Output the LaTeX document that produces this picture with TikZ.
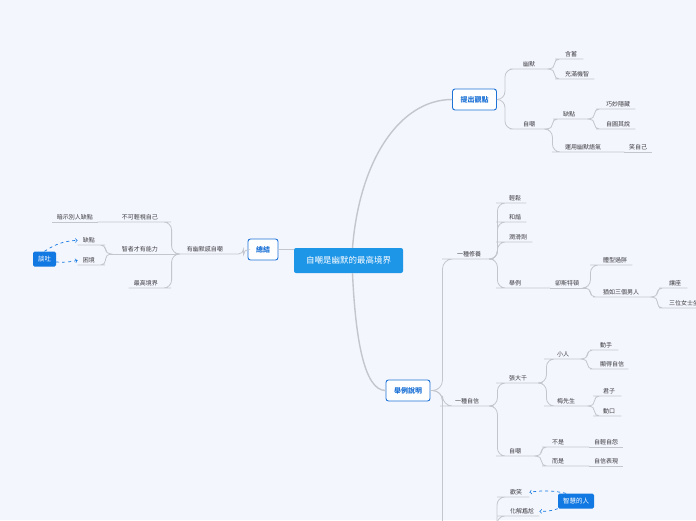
\documentclass[tikz,border=0pt]{standalone}
\usepackage{fontspec}
\setmainfont{Noto Sans CJK TC}
\definecolor{bg}{RGB}{244,246,253}
\definecolor{mainblue}{RGB}{30,150,232}
\definecolor{calloutblue}{RGB}{18,120,226}
\definecolor{topicblue}{RGB}{30,115,215}
\definecolor{linegray}{RGB}{196,198,206}
\definecolor{textgray}{RGB}{60,60,66}

\begin{document}
\begin{tikzpicture}[x=1pt, y=-1pt,
    central/.style={fill=mainblue, text=white, rounded corners=2pt, minimum width=109pt, minimum height=25pt, font=\fontsize{8.5}{10}\selectfont},
    topic/.style={draw=topicblue, fill=white, text=topicblue, line width=0.9pt, rounded corners=2.5pt, minimum height=21pt, inner xsep=8pt, font=\fontsize{7}{8}\selectfont\bfseries},
    callout/.style={fill=calloutblue, text=white, rounded corners=1.5pt, inner xsep=5pt, minimum height=15pt, font=\fontsize{6.5}{8}\selectfont},
    leaf/.style={anchor=south west, text width=#1, align=left, inner xsep=5pt, inner ysep=1.5pt, text height=5pt, text depth=1pt, text=textgray, font=\fontsize{6}{7}\selectfont},
    leaf/.default=12pt,
    lleaf/.style={leaf=#1, anchor=south east, align=right},
    lleaf/.default=12pt,
    trunk/.style={draw=linegray, line width=1.4pt},
    branch/.style={draw=linegray, line width=0.8pt, rounded corners=5pt},
    fork/.style={to path={-- ++(#1,0) |- (\tikztotarget)}},
    fork/.default=4,
    lfork/.style={to path={-- ++(-#1,0) |- (\tikztotarget)}},
    lfork/.default=4,
    link/.style={draw=calloutblue, dashed, line width=0.7pt, ->},
]
\useasboundingbox (0,0) rectangle (696,520);
\clip (0,0) rectangle (696,520);
\fill[bg] (0,0) rectangle (696,520);

% Nodes
\node[central] (root) at (348.5,260.5) {自嘲是幽默的最高境界};
\node[topic] (view) at (474.5,99.5) {提出觀點};
\node[topic] (cases) at (408,390.5) {舉例說明};
\node[topic] (sum) at (263,249.5) {總結};

% view
\node[leaf=22pt] (humor) at (518,69) {幽默};
\node[leaf=13pt] (hanxu) at (560,59) {含蓄};
\node[leaf=24pt] (wit) at (560,79) {充滿機智};
\node[leaf=20pt] (mock) at (518,129) {自嘲};
\node[leaf=22pt] (flaw) at (558,119) {缺點};
\node[leaf=24pt] (hide) at (601,109) {巧妙隱藏};
\node[leaf=24pt] (excuse) at (601,129) {自圓其說};
\node[leaf=54pt] (tone) at (560,152) {運用幽默語氣};
\node[leaf=18pt] (laugh) at (624,152) {笑自己};

% cases
\node[leaf=31pt] (culture) at (452,259) {一種修養};
\node[leaf=33pt] (confid) at (450,406) {一種自信};
\coordinate (lastS) at (452,548);
\coordinate (lastE) at (493,548);

\node[leaf=12pt] (relax) at (504,203) {輕鬆};
\node[leaf=12pt] (harmony) at (504,222) {和諧};
\node[leaf=18pt] (lube) at (504,242) {潤滑劑};
\node[leaf=36pt] (example) at (504,288) {舉例};
\node[leaf=26pt] (chest) at (550,288) {卻斯特頓};
\node[leaf=24pt] (fat) at (598,265) {體型過胖};
\node[leaf=45pt] (threemen) at (598,297) {猶如三個男人};
\node[leaf=13pt] (seat) at (664,288) {讓座};
\node[leaf=30pt] (ladies) at (664,308) {三位女士坐};

\node[leaf=28pt] (zhang) at (504,383) {張大千};
\node[leaf=23pt] (mock2) at (504,456) {自嘲};
\node[leaf=21pt] (xiaoren) at (552,359) {小人};
\node[leaf=28pt] (mei) at (552,406) {梅先生};
\node[leaf=13pt] (hand) at (595,350) {動手};
\node[leaf=23pt] (showconf) at (595,369) {顯得自信};
\node[leaf=13pt] (junzi) at (598,396) {君子};
\node[leaf=13pt] (mouth) at (598,416) {動口};
\node[leaf=32pt] (notis) at (547,447) {不是};
\node[leaf=24pt] (belittle) at (589,447) {自輕自怨};
\node[leaf=32pt] (butis) at (547,466) {而是};
\node[leaf=24pt] (selfconf) at (589,466) {自信表現};

\node[leaf=14pt] (joy) at (505,497) {歡笑};
\node[leaf=24pt] (ease) at (505,516) {化解尷尬};

% sum
\node[lleaf=42pt] (humorself) at (228,254) {有幽默感自嘲};
\node[lleaf=55pt] (nolook) at (163,222) {不可輕視自己};
\node[lleaf=36pt] (hint) at (98,222) {暗示別人缺點};
\node[lleaf=43pt] (wise) at (163,254) {智者才有能力};
\node[lleaf=24pt] (highest) at (163,288) {最高境界};
\node[lleaf=12pt] (flaw2) at (100,245) {缺點};
\node[lleaf=12pt] (hard) at (100,265) {困境};

% callouts
\node[callout] (talk) at (44.5,259) {談吐};
\node[callout] (sage) at (576,501) {智慧的人};

% Connectors
\draw[trunk] ([xshift=4pt]root.north) .. controls +(7,-88) and +(-52,0) .. (view.west);
\draw[trunk] ([xshift=4pt]root.south) .. controls +(3,67) and +(-21,0) .. (cases.west);
\draw[trunk] (sum.east) -- (sum.east -| root.west);

\draw[branch, rounded corners=8pt] (view.east) to[fork=8] (humor.south west) -- (humor.south east);
\draw[branch, rounded corners=8pt] (view.east) to[fork=8] (mock.south west) -- (mock.south east);
\draw[branch] (humor.south east) to[fork] (hanxu.south west) -- (hanxu.south east);
\draw[branch] (humor.south east) to[fork] (wit.south west) -- (wit.south east);
\draw[branch] (mock.south east) to[fork] (flaw.south west) -- (flaw.south east);
\draw[branch, rounded corners=8pt] (mock.south east) to[fork] (tone.south west) -- (tone.south east);
\draw[branch] (tone.south east) -- (laugh.south east);
\draw[branch] (flaw.south east) to[fork] (hide.south west) -- (hide.south east);
\draw[branch] (flaw.south east) to[fork] (excuse.south west) -- (excuse.south east);

\draw[branch, rounded corners=10pt] (cases.east) to[fork=12] (culture.south west) -- (culture.south east);
\draw[branch, rounded corners=10pt] (cases.east) to[fork=12] (confid.south west) -- (confid.south east);
\draw[branch, rounded corners=10pt] (cases.east) to[fork=12] (lastS) -- (lastE);

\draw[branch, rounded corners=8pt] (culture.south east) to[fork] (relax.south west) -- (relax.south east);
\draw[branch, rounded corners=8pt] (culture.south east) to[fork] (harmony.south west) -- (harmony.south east);
\draw[branch, rounded corners=8pt] (culture.south east) to[fork] (lube.south west) -- (lube.south east);
\draw[branch, rounded corners=8pt] (culture.south east) to[fork] (example.south west) -- (example.south east);
\draw[branch] (example.south east) -- (chest.south east);
\draw[branch, rounded corners=8pt] (chest.south east) to[fork] (fat.south west) -- (fat.south east);
\draw[branch] (chest.south east) to[fork] (threemen.south west) -- (threemen.south east);
\draw[branch] (threemen.south east) to[fork] (seat.south west) -- (seat.south east);
\draw[branch] (threemen.south east) to[fork] (ladies.south west) -- (ladies.south east);

\draw[branch, rounded corners=8pt] (confid.south east) to[fork] (zhang.south west) -- (zhang.south east);
\draw[branch, rounded corners=8pt] (confid.south east) to[fork] (mock2.south west) -- (mock2.south east);
\draw[branch, rounded corners=8pt] (zhang.south east) to[fork] (xiaoren.south west) -- (xiaoren.south east);
\draw[branch, rounded corners=8pt] (zhang.south east) to[fork] (mei.south west) -- (mei.south east);
\draw[branch] (xiaoren.south east) to[fork] (hand.south west) -- (hand.south east);
\draw[branch] (xiaoren.south east) to[fork] (showconf.south west) -- (showconf.south east);
\draw[branch] (mei.south east) to[fork] (junzi.south west) -- (junzi.south east);
\draw[branch] (mei.south east) to[fork] (mouth.south west) -- (mouth.south east);
\draw[branch] (mock2.south east) to[fork] (notis.south west) -- (notis.south east);
\draw[branch] (notis.south east) -- (belittle.south east);
\draw[branch] (mock2.south east) to[fork] (butis.south west) -- (butis.south east);
\draw[branch] (butis.south east) -- (selfconf.south east);

\draw[branch, rounded corners=8pt] (lastE) to[fork] (joy.south west) -- (joy.south east);
\draw[branch, rounded corners=8pt] (lastE) to[fork] (ease.south west) -- (ease.south east);

\draw[branch] (sum.west) to[lfork=4] (humorself.south east) -- (humorself.south west);
\draw[branch] (humorself.south west) -- (wise.south west);
\draw[branch, rounded corners=8pt] (humorself.south west) to[lfork] (nolook.south east) -- (nolook.south west);
\draw[branch] (nolook.south west) -- (hint.south west);
\draw[branch, rounded corners=8pt] (humorself.south west) to[lfork] (highest.south east) -- (highest.south west);
\draw[branch] (wise.south west) to[lfork] (flaw2.south east) -- (flaw2.south west);
\draw[branch] (wise.south west) to[lfork] (hard.south east) -- (hard.south west);

% Links
\draw[link] (talk.north) to[bend left=15] (flaw2.west);
\draw[link] ([yshift=-3pt]talk.east) to[bend right=8] (hard.west);
\draw[link] ([xshift=-10pt]sage.north) to[bend right=10] (joy.east);
\draw[link] (sage.south west) to[bend left=10] (ease.east);
\end{tikzpicture}
\end{document}
